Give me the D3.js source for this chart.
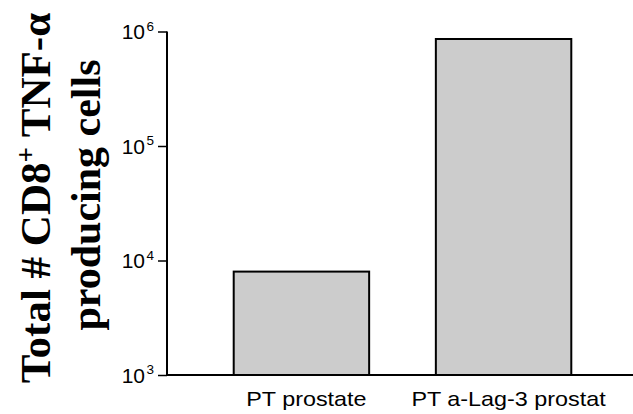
<!DOCTYPE html>
<html>
<head>
<meta charset="utf-8">
<script src="https://cdn.jsdelivr.net/npm/d3@7"></script>
<style>
  html, body { margin: 0; padding: 0; background: #fff; }
  svg { display: block; }
</style>
</head>
<body>
<svg id="chart" width="633" height="414"></svg>
<script>
const categories = ["PT prostate", "PT a-Lag-3 prostat"];
const values = [8000, 860000];
const tickValues = [1e3, 1e4, 1e5, 1e6];
const tickExponents = ["3", "4", "5", "6"];
const titleLine1 = ["Total # CD8", "+", " TNF-α"];
const titleLine2 = "producing cells";

const svg = d3.select("#chart");
const x0 = 167, x1 = 638, yTop = 31.5, yBot = 375;

const y = d3.scaleLog().domain([1e3, 1e6]).range([yBot, yTop]);
const x = d3.scaleBand().domain(categories).range([x0, x1]).paddingInner(0.33).paddingOuter(0.33);

// bars
svg.append("g").selectAll("rect").data(values).join("rect")
  .attr("x", (d, i) => x(categories[i]))
  .attr("width", x.bandwidth())
  .attr("y", d => y(d))
  .attr("height", d => y(1e3) - y(d))
  .attr("fill", "#cccccc")
  .attr("stroke", "#000")
  .attr("stroke-width", 2);

// y axis
const yAxis = svg.append("g").attr("transform", `translate(${x0},0)`)
  .call(d3.axisLeft(y).tickValues(tickValues).tickSize(9).tickFormat(""));
yAxis.select(".domain").attr("stroke-width", 2).attr("d", `M0,${yTop}V${yBot}`);
yAxis.selectAll(".tick line").attr("stroke-width", 1.5);

const lab = svg.append("g");
tickValues.forEach((v, i) => {
  lab.append("text")
    .attr("x", 145).attr("y", y(v) + 7.5)
    .attr("text-anchor", "end")
    .attr("font-family", "Liberation Sans, Arial, sans-serif")
    .attr("font-size", 21)
    .attr("fill", "#000")
    .text("10");
  lab.append("text")
    .attr("x", 146.5).attr("y", y(v) - 1)
    .attr("font-family", "Liberation Sans, Arial, sans-serif")
    .attr("font-size", 13.5)
    .attr("fill", "#000")
    .text(tickExponents[i]);
});

// x axis
svg.append("line")
  .attr("x1", x0).attr("x2", 633)
  .attr("y1", yBot).attr("y2", yBot)
  .attr("stroke", "#000").attr("stroke-width", 2);

// category labels
svg.append("g").selectAll("text").data(categories).join("text")
  .attr("transform", d => `translate(${x(d) + x.bandwidth() / 2 + 5},406) scale(1.14,1)`)
  .attr("text-anchor", "middle")
  .attr("font-family", "Liberation Sans, Arial, sans-serif")
  .attr("font-size", 20.5)
  .attr("fill", "#000")
  .text(d => d);

// y title
const tg = svg.append("g").attr("transform", "rotate(-90)");
const t1 = tg.append("text")
  .attr("x", -198).attr("y", 50)
  .attr("text-anchor", "middle")
  .attr("font-family", "Liberation Serif, Times New Roman, serif")
  .attr("font-weight", "bold")
  .attr("font-size", 43)
  .attr("fill", "#000");
t1.append("tspan").text(titleLine1[0]);
t1.append("tspan").attr("dy", -15).attr("font-size", 27).text(titleLine1[1]);
t1.append("tspan").attr("dy", 15).text(titleLine1[2]);

tg.append("text")
  .attr("x", -195).attr("y", 100)
  .attr("text-anchor", "middle")
  .attr("font-family", "Liberation Serif, Times New Roman, serif")
  .attr("font-weight", "bold")
  .attr("font-size", 42)
  .attr("fill", "#000")
  .text(titleLine2);
</script>
</body>
</html>
